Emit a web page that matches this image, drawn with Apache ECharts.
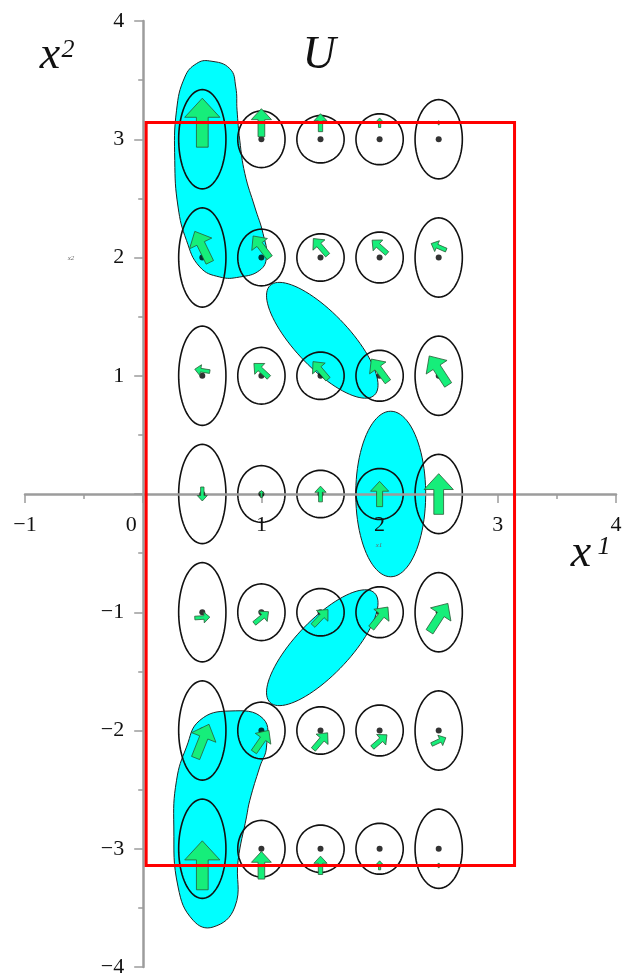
<!DOCTYPE html>
<html><head><meta charset="utf-8">
<script src="https://cdn.jsdelivr.net/npm/echarts@6/dist/echarts.min.js"></script>
<style>html,body{margin:0;padding:0;background:#fff}#c{width:624px;height:979px}</style>
</head><body><div id="c"></div>
<script>
// ---- data ----
const xTickValues = [-1, 0, 1, 2, 3, 4];
const yTickValues = [-4, -3, -2, -1, 0, 1, 2, 3, 4];
const gridX = [0.5, 1, 1.5, 2, 2.5];
const gridY = [3, 2, 1, 0, -1, -2, -3];
const ellipseRx = [0.2, 0.2, 0.2, 0.2, 0.2];
const ellipseRy = [0.42, 0.24, 0.2, 0.215, 0.335];
const arrowRowY = [3.14, 2.09, 1.045, 0, -1.045, -2.09, -3.14];
const arrowDX = [
  [0, 0, 0, 0, 0],
  [-0.127, -0.14, -0.121, -0.127, -0.127],
  [-0.127, -0.127, -0.127, -0.14, -0.16],
  [0, 0, 0, 0, 0],
  [0.127, 0.121, 0.127, 0.141, 0.155],
  [0.113, 0.127, 0.121, 0.124, 0.121],
  [0, 0, 0, 0, 0]
];
const arrowDY = [
  [0.414, 0.237, 0.152, 0.08, 0.035],
  [0.262, 0.184, 0.141, 0.113, 0.056],
  [0.02, 0.118, 0.149, 0.192, 0.245],
  [-0.118, 0.06, 0.133, 0.214, 0.344],
  [0.008, 0.099, 0.135, 0.178, 0.24],
  [0.285, 0.183, 0.141, 0.107, 0.057],
  [0.414, 0.233, 0.155, 0.076, 0.04]
];
const blobTop = [[0.563,3.662],[0.733,3.597],[0.783,3.442],[0.794,3.245],[0.817,2.992],[0.860,2.710],[0.944,2.427],[1.014,2.202],[1.043,2.004],[0.986,1.892],[0.817,1.835],[0.648,1.835],[0.479,1.920],[0.366,2.145],[0.295,2.427],[0.267,2.821],[0.282,3.245],[0.352,3.526],[0.451,3.640]];
const blobBottom = [[0.734,-1.835],[1.014,-1.899],[1.043,-2.140],[0.986,-2.309],[0.902,-2.590],[0.874,-2.731],[0.803,-3.098],[0.775,-3.493],[0.591,-3.662],[0.422,-3.605],[0.295,-3.323],[0.259,-2.816],[0.282,-2.421],[0.366,-2.140],[0.479,-1.914]];
// [centerX, centerY, semiMajor, semiMinor, angleDeg]
const cyanEllipses = [
  [1.515, 1.30, 0.64, 0.23, -46.4],
  [2.094, 0.0, 0.70, 0.296, 90],
  [1.515, -1.30, 0.64, 0.23, 46.4]
];
const domainX = [0.025, 3.1416];
const domainY = [-3.1416, 3.1416];

// ---- build ----
const FONT = '"Liberation Serif", "DejaVu Serif", serif';
const fmt = v => v < 0 ? '\u2212' + Math.abs(v) : String(v);

const cyanShapes = [];
cyanShapes.push({pts: blobTop, smooth: 0.45});
cyanShapes.push({pts: blobBottom, smooth: 0.45});
cyanEllipses.forEach(e => {
  const pts = [];
  const th = e[4] * Math.PI / 180;
  for (let k = 0; k < 90; k++) {
    const a = k / 90 * 2 * Math.PI;
    const u = e[2] * Math.cos(a), w = e[3] * Math.sin(a);
    pts.push([e[0] + u * Math.cos(th) - w * Math.sin(th), e[1] + u * Math.sin(th) + w * Math.cos(th)]);
  }
  cyanShapes.push({pts: pts, smooth: 0});
});

const ellipseData = [];
const dotData = [];
const arrowData = [];
gridY.forEach((y, r) => {
  gridX.forEach((x, c) => {
    ellipseData.push([x, y, ellipseRx[c], ellipseRy[c]]);
    dotData.push([x, y]);
    arrowData.push([x, arrowRowY[r], arrowDX[r][c], arrowDY[r][c]]);
  });
});

const GRID = {left: 25, top: 21, width: 591, height: 946};
const chart = echarts.init(document.getElementById('c'), null, {renderer: 'canvas'});
const axisCommon = {
  type: 'value', interval: 1, z: 3,
  splitLine: {show: false},
  axisLine: {show: true, onZero: false, lineStyle: {color: '#9c9c9c', width: 2.5}},
  axisTick: {show: true, length: 9, lineStyle: {color: '#9c9c9c', width: 1.5}},
  minorTick: {show: true, splitNumber: 2, length: 5, lineStyle: {color: '#9c9c9c', width: 1.5}},
};
chart.setOption({
  animation: false,
  grid: Object.assign({containLabel: false, outerBoundsMode: 'none'}, GRID),
  xAxis: Object.assign({}, axisCommon, {
    min: -1, max: 4, position: 'bottom',
    offset: -GRID.height * 4 / 8,
    axisLabel: {
      fontFamily: FONT, fontSize: 22, color: '#111', margin: 20,
      showMinLabel: true, showMaxLabel: true, hideOverlap: false,
      formatter: v => v === 0 ? '{z|0}' : fmt(v),
      rich: {z: {fontFamily: FONT, fontSize: 22, color: '#111', padding: [0, 24, 6, 0]}}
    }
  }),
  yAxis: Object.assign({}, axisCommon, {
    min: -4, max: 4, position: 'left',
    offset: -GRID.width * 1 / 5,
    axisLabel: {
      fontFamily: FONT, fontSize: 22, color: '#111', margin: 19,
      showMinLabel: true, showMaxLabel: true, hideOverlap: false,
      formatter: v => v === 0 ? '' : fmt(v)
    }
  }),
  graphic: [
    {type: 'text', x: 50, y: 56, z: 10, style: {text: 'x', font: 'italic 46px ' + FONT, fill: '#111', align: 'center', verticalAlign: 'middle'}},
    {type: 'text', x: 68, y: 50, z: 10, style: {text: '2', font: 'italic 26px ' + FONT, fill: '#111', align: 'center', verticalAlign: 'middle'}},
    {type: 'text', x: 319, y: 56, z: 10, style: {text: 'U', font: 'italic 46px ' + FONT, fill: '#111', align: 'center', verticalAlign: 'middle'}},
    {type: 'text', x: 581, y: 554, z: 10, style: {text: 'x', font: 'italic 46px ' + FONT, fill: '#111', align: 'center', verticalAlign: 'middle'}},
    {type: 'text', x: 604, y: 547, z: 10, style: {text: '1', font: 'italic 26px ' + FONT, fill: '#111', align: 'center', verticalAlign: 'middle'}},
    {type: 'text', x: 71, y: 258, z: 10, style: {text: 'x2', font: 'italic 7px ' + FONT, fill: '#666', align: 'center', verticalAlign: 'middle'}},
    {type: 'text', x: 379, y: 545, z: 10, style: {text: 'x1', font: 'italic 7px ' + FONT, fill: '#666', align: 'center', verticalAlign: 'middle'}}
  ],
  series: [
    {
      type: 'custom', name: 'cyan', z: 1, silent: true,
      data: cyanShapes.map((s, i) => [s.pts[0][0], s.pts[0][1], i]),
      renderItem: (params, api) => {
        const s = cyanShapes[params.dataIndex];
        return {type: 'polygon', shape: {points: s.pts.map(p => api.coord(p)), smooth: s.smooth},
          style: {fill: '#00ffff', stroke: '#222', lineWidth: 1}};
      }
    },
    {
      type: 'custom', name: 'ellipses', z: 2, silent: true,
      data: ellipseData,
      renderItem: (params, api) => {
        const cx = api.value(0), cy = api.value(1), rx = api.value(2), ry = api.value(3);
        const pts = [];
        for (let k = 0; k < 80; k++) {
          const a = k / 80 * 2 * Math.PI;
          pts.push(api.coord([cx + rx * Math.cos(a), cy + ry * Math.sin(a)]));
        }
        return {type: 'polygon', shape: {points: pts}, style: {fill: 'none', stroke: '#111', lineWidth: 1.6}};
      }
    },
    {
      type: 'scatter', name: 'points', z: 4, silent: true,
      symbol: 'circle', symbolSize: 6,
      itemStyle: {color: '#000'},
      data: dotData
    },
    {
      type: 'custom', name: 'arrows', z: 5, silent: true,
      data: arrowData,
      renderItem: (params, api) => {
        const cx = api.value(0), cy = api.value(1), dx = api.value(2), dy = api.value(3);
        const t = api.coord([cx - dx / 2, cy - dy / 2]);
        const h = api.coord([cx + dx / 2, cy + dy / 2]);
        const vx = h[0] - t[0], vy = h[1] - t[1];
        const L = Math.hypot(vx, vy);
        if (L < 0.5) return null;
        const ux = vx / L, uy = vy / L, nx = -uy, ny = ux;
        const sw = 0.12 * L, hw = 0.36 * L, hl = 0.39 * L;
        const bx = h[0] - ux * hl, by = h[1] - uy * hl;
        const pts = [
          [t[0] + nx * sw, t[1] + ny * sw], [bx + nx * sw, by + ny * sw], [bx + nx * hw, by + ny * hw],
          [h[0], h[1]],
          [bx - nx * hw, by - ny * hw], [bx - nx * sw, by - ny * sw], [t[0] - nx * sw, t[1] - ny * sw]
        ];
        return {type: 'polygon', shape: {points: pts}, style: {fill: '#16ee7a', stroke: '#2a5a36', lineWidth: 0.8}};
      }
    },
    {
      type: 'custom', name: 'domain', z: 6, silent: true,
      data: [[domainX[0], domainY[0], domainX[1], domainY[1]]],
      renderItem: (params, api) => {
        const p0 = api.coord([api.value(0), api.value(3)]);
        const p1 = api.coord([api.value(2), api.value(1)]);
        return {type: 'rect', shape: {x: p0[0], y: p0[1], width: p1[0] - p0[0], height: p1[1] - p0[1]},
          style: {fill: 'none', stroke: '#ff0000', lineWidth: 3}};
      }
    }
  ]
});
</script>
</body></html>
